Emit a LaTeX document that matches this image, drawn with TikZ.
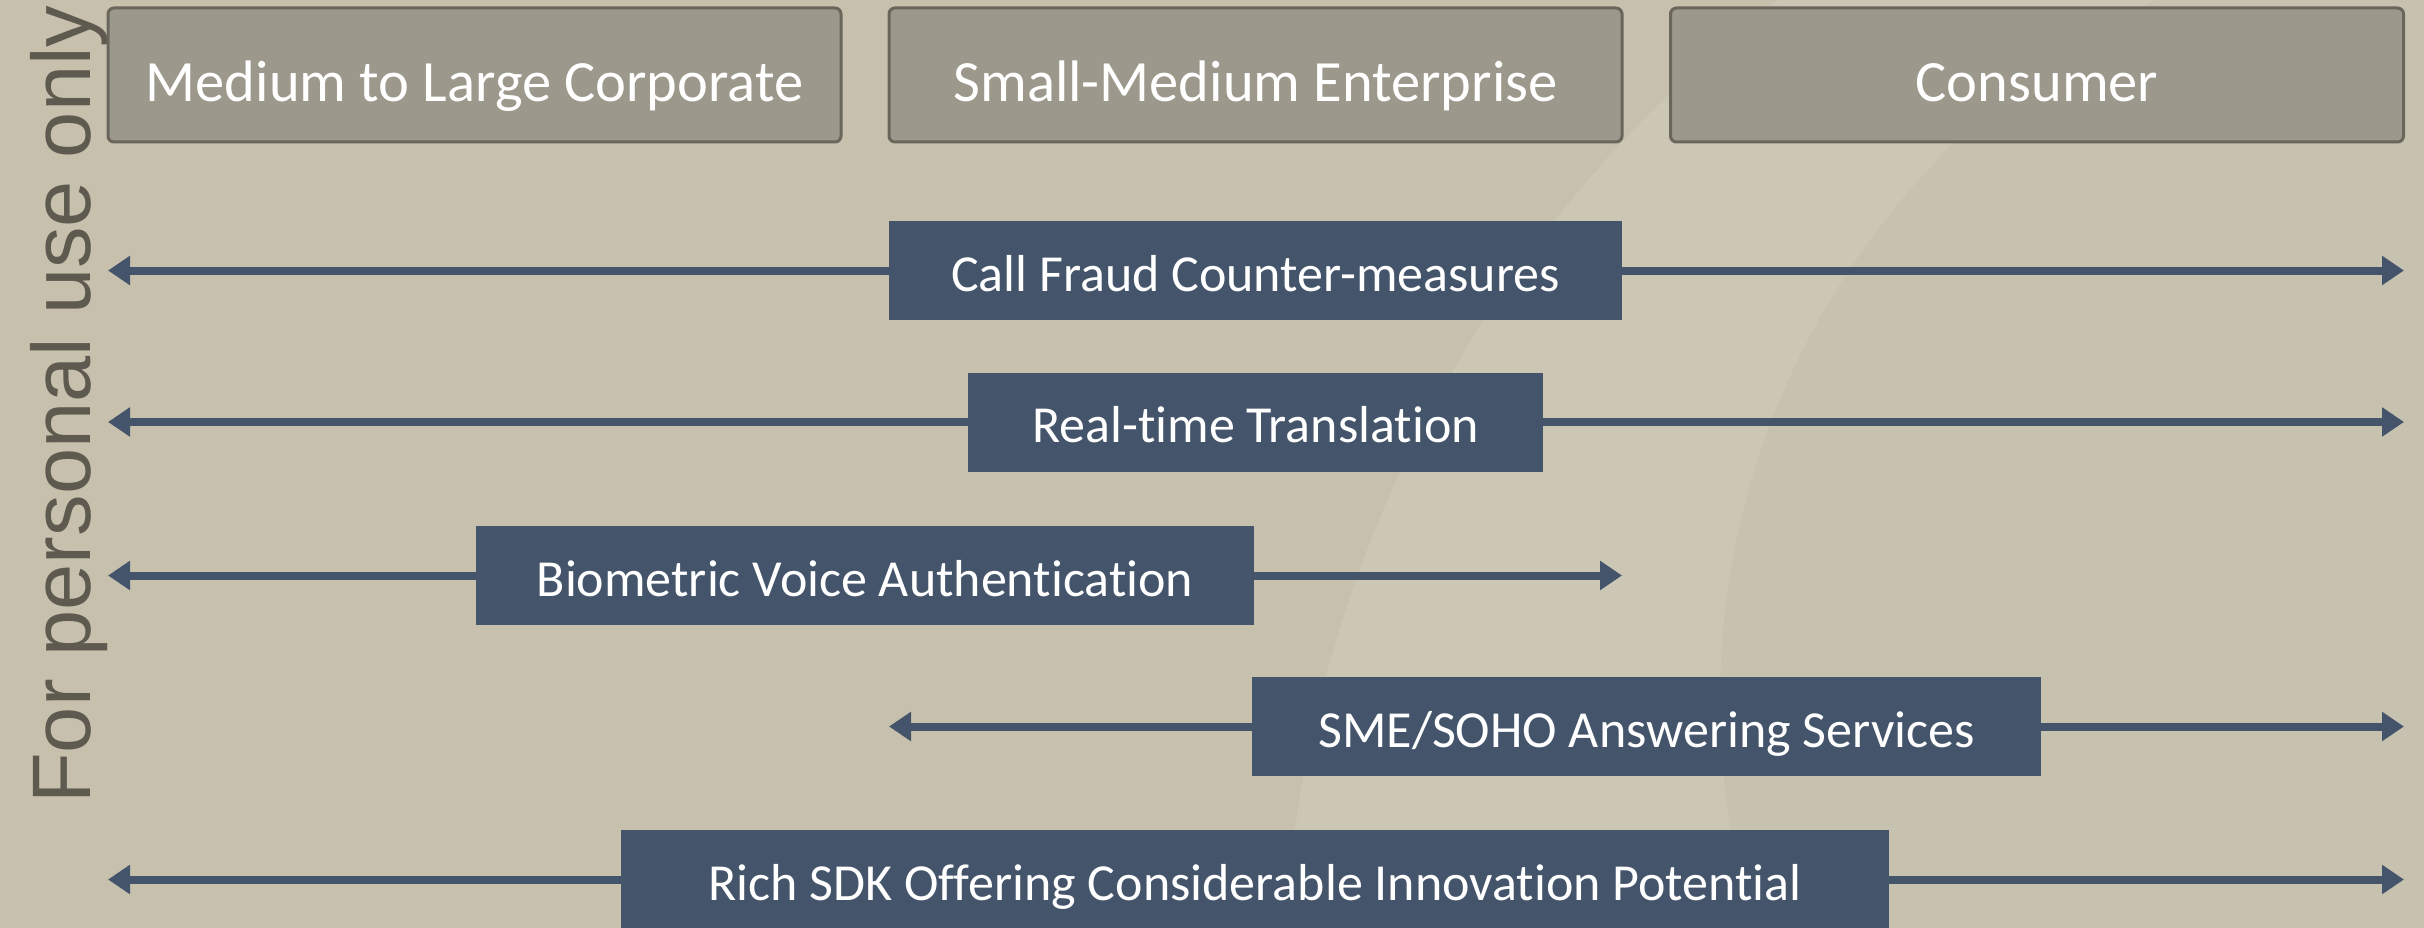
\documentclass[tikz,border=0pt]{standalone}
\usepackage{fontspec}
\setmainfont{Carlito}[Ligatures={NoCommon}]
\newfontfamily\wmfont{Liberation Sans}
\usetikzlibrary{arrows.meta}
\definecolor{bgcol}{HTML}{C7C0AD}
\definecolor{hdrfill}{HTML}{9C988B}
\definecolor{hdrdraw}{HTML}{6B665B}
\definecolor{boxfill}{HTML}{44546A}
\definecolor{wmcol}{HTML}{5E5A50}
\tikzset{
  hdrbox/.style={draw=hdrdraw, line width=3pt, fill=hdrfill, rounded corners=6pt,
    text=white, inner sep=0pt, minimum width=733pt, minimum height=134pt,
    text height=60pt, text depth=6pt,
    font=\fontsize{58.5}{70}\selectfont},
  featbox/.style={fill=boxfill, text=white, inner sep=0pt, minimum height=99pt,
    text height=41pt, text depth=0pt,
    font=\fontsize{52}{62}\selectfont},
  featarrow/.style={draw=boxfill, line width=8pt, -{Triangle[length=22pt,width=28pt]}}
}
\begin{document}
\begin{tikzpicture}[x=1pt,y=-1pt]
\fill[bgcol] (0,0) rectangle (2424,928);
\useasboundingbox (0,0) rectangle (2424,928);
\begin{scope}
\clip (0,0) rectangle (2424,928);
\fill[white, opacity=0.10] (2551,1005) circle (1268);
\fill[black, opacity=0.025] (2500,700) circle (780);
\end{scope}
% watermark
\node[rotate=90, anchor=base west, inner sep=0pt, text=wmcol,
  font=\wmfont\fontsize{83}{98}\selectfont] (wm) at (90,804) {For personal use only};
% headers
\node[hdrbox] (h1) at (474.5,75) {Medium to Large Corporate};
\node[hdrbox] (h2) at (1255.5,75) {Small-Medium Enterprise};
\node[hdrbox] (h3) at (2037,75) {Consumer};
% feature boxes
\node[featbox, minimum width=733pt] (r1) at (1255.5,270.5) {Call Fraud Counter-measures};
\node[featbox, minimum width=575pt] (r2) at (1255.5,422) {Real-time Translation};
\node[featbox, minimum width=778pt] (r3) at (865,575.5) {Biometric Voice Authentication};
\node[featbox, minimum width=789pt] (r4) at (1646.5,726.5) {SME/SOHO Answering Services};
\node[featbox, minimum width=1268pt] (r5) at (1255,879.5) {Rich SDK Offering Considerable Innovation Potential};
% arrow ends
\coordinate (l1) at (108,270.5);  \coordinate (e1) at (2404,270.5);
\coordinate (l2) at (108,422);    \coordinate (e2) at (2404,422);
\coordinate (l3) at (108,575.5);  \coordinate (e3) at (1622,575.5);
\coordinate (l4) at (889,726.5);  \coordinate (e4) at (2404,726.5);
\coordinate (l5) at (108,879.5);  \coordinate (e5) at (2404,879.5);
\foreach \i in {1,...,5}{
  \draw[featarrow] (r\i.west) -- (l\i);
  \draw[featarrow] (r\i.east) -- (e\i);
}
\end{tikzpicture}
\end{document}
